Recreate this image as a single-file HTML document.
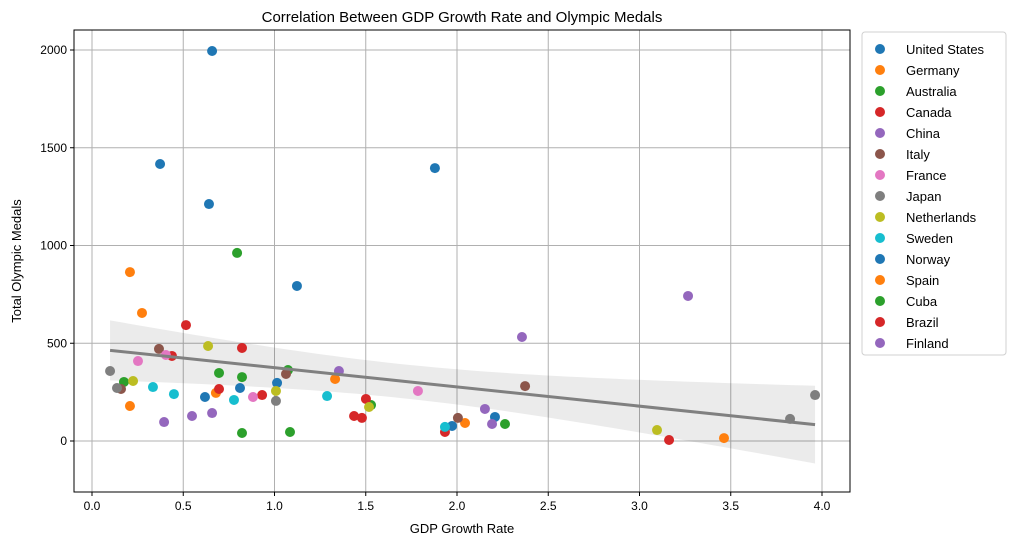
<!DOCTYPE html>
<html><head><meta charset="utf-8"><style>
body{margin:0;background:#fff;}
text{font-family:"Liberation Sans","DejaVu Sans",sans-serif;fill:#000;}
</style></head><body>
<svg id="c" width="1015" height="545"></svg>
<script>
const countries=["United States","Germany","Australia","Canada","China","Italy","France","Japan","Netherlands","Sweden","Norway","Spain","Cuba","Brazil","Finland"];
const colors=["#1f77b4","#ff7f0e","#2ca02c","#d62728","#9467bd","#8c564b","#e377c2","#7f7f7f","#bcbd22","#17becf","#1f77b4","#ff7f0e","#2ca02c","#d62728","#9467bd"];
const blueX=[.658,.373,.641,1.879,1.123,1.014,.619,.811,1.973,2.208];
const blueY=[1995,1417,1212,1396,793,297,225,271,77,123];
const orangeX=[.208,.274,.208,.679,1.332,2.044,3.463];
const orangeY=[864,655,179,246,317,92,15];
const greenX=[.795,.175,.696,.822,1.074,.822,1.085,1.529,2.263];
const greenY=[962,302,348,327,363,41,46,184,87];
const redX=[.515,.822,.438,.696,.932,1.501,1.436,1.479,1.934,3.162];
const redY=[593,476,435,266,235,215,128,118,46,5];
const purpleX=[3.266,2.356,.395,.548,.658,1.353,2.153,2.192];
const purpleY=[742,532,97,128,143,358,164,87];
const brownX=[.367,.159,1.063,2.005,2.373];
const brownY=[471,266,343,118,281];
const pinkX=[.405,.252,.882,1.786];
const pinkY=[440,409,225,256];
const grayX=[.099,.137,1.008,3.825,3.962];
const grayY=[358,271,205,113,235];
const oliveX=[.636,.225,1.008,1.518,3.096];
const oliveY=[486,307,256,174,56];
const cyanX=[.334,.449,.778,1.288,1.934];
const cyanY=[276,240,210,230,72];
const xTicks=[0,0.5,1,1.5,2,2.5,3,3.5,4];
const xTickLabels=["0.0","0.5","1.0","1.5","2.0","2.5","3.0","3.5","4.0"];
const yTicks=[0,500,1000,1500,2000];
const yTickLabels=["0","500","1000","1500","2000"];

const NS="http://www.w3.org/2000/svg";
const svg=document.getElementById('c');
const L=74,R=850,T=30,B=492;
const sx=v=>92+v*182.5;
const sy=v=>441-v*0.1955;
function mk(tag,attrs,parent){const e=document.createElementNS(NS,tag);for(const k in attrs)e.setAttribute(k,attrs[k]);(parent||svg).appendChild(e);return e;}

// grid
xTicks.forEach((t,i)=>{
  const g=mk('line',{x1:sx(t),x2:sx(t),y1:T,y2:B,stroke:'#b0b0b0','stroke-width':1});
  
  
  mk('line',{x1:sx(t),x2:sx(t),y1:B,y2:B+4,stroke:'#000'});
  const tx=mk('text',{x:sx(t),y:B+18,'text-anchor':'middle','font-size':12});
  tx.textContent=xTickLabels[i];
  
  
});
yTicks.forEach((t,i)=>{
  const g=mk('line',{x1:L,x2:R,y1:sy(t),y2:sy(t),stroke:'#b0b0b0','stroke-width':1});
  
  
  mk('line',{x1:L-4,x2:L,y1:sy(t),y2:sy(t),stroke:'#000'});
  const tx=mk('text',{x:L-7,y:sy(t)+4,'text-anchor':'end','font-size':12});
  tx.textContent=yTickLabels[i];
  
  
});

// regression
const allX=[].concat(blueX,orangeX,greenX,redX,purpleX,brownX,pinkX,grayX,oliveX,cyanX);
const allY=[].concat(blueY,orangeY,greenY,redY,purpleY,brownY,pinkY,grayY,oliveY,cyanY);
const n=allX.length;const mx=allX.reduce((a,b)=>a+b)/n,my=allY.reduce((a,b)=>a+b)/n;
let sxx=0,sxy=0;for(let i=0;i<n;i++){sxx+=(allX[i]-mx)**2;sxy+=(allX[i]-mx)*(allY[i]-my);}
const slope=sxy/sxx,icpt=my-slope*mx;
const x0=Math.min(...allX),x1=Math.max(...allX);
let up=[],dn=[];
for(let k=0;k<=60;k++){const x=x0+(x1-x0)*k/60;const yv=icpt+slope*x;const h=Math.sqrt(289+239*(x-1.7)**2);
 up.push(sx(x)+','+(sy(yv)-h));dn.unshift(sx(x)+','+(sy(yv)+h));}
const band=mk('polygon',{points:up.concat(dn).join(' '),fill:'#000','fill-opacity':0.08,stroke:'none'});



// points
const groups=[[blueX,blueY,0],[orangeX,orangeY,1],[greenX,greenY,2],[redX,redY,3],[purpleX,purpleY,4],[brownX,brownY,5],[pinkX,pinkY,6],[grayX,grayY,7],[oliveX,oliveY,8],[cyanX,cyanY,9]];
groups.forEach(g=>{g[0].forEach((x,i)=>{
  const c=mk('circle',{cx:sx(x),cy:sy(g[1][i]),r:5,fill:colors[g[2]]});
  
  
});});
const rl=mk('line',{x1:sx(x0),y1:sy(icpt+slope*x0),x2:sx(x1),y2:sy(icpt+slope*x1),stroke:'#808080','stroke-width':3});



// frame
const fr=mk('rect',{x:L,y:T,width:R-L,height:B-T,fill:'none',stroke:'#000','stroke-width':1});



const title=mk('text',{x:462,y:22,'text-anchor':'middle','font-size':15});
title.textContent='Correlation Between GDP Growth Rate and Olympic Medals';


const xl=mk('text',{x:462,y:533,'text-anchor':'middle','font-size':13});
xl.textContent='GDP Growth Rate';


const yl=mk('text',{x:0,y:0,'text-anchor':'middle','font-size':13,transform:'translate(21,261) rotate(-90)'});
yl.textContent='Total Olympic Medals';



// legend
const lg=mk('rect',{x:862,y:32,width:144,height:323,rx:3,fill:'#fff',stroke:'#d0d0d0'});


countries.forEach((c,i)=>{
  const y=49+i*21;
  const m=mk('circle',{cx:880,cy:y,r:5,fill:colors[i]});
  
  
  const t=mk('text',{x:906,y:y+5,'font-size':13});
  t.textContent=c;
  
  
});
</script>
</body></html>
